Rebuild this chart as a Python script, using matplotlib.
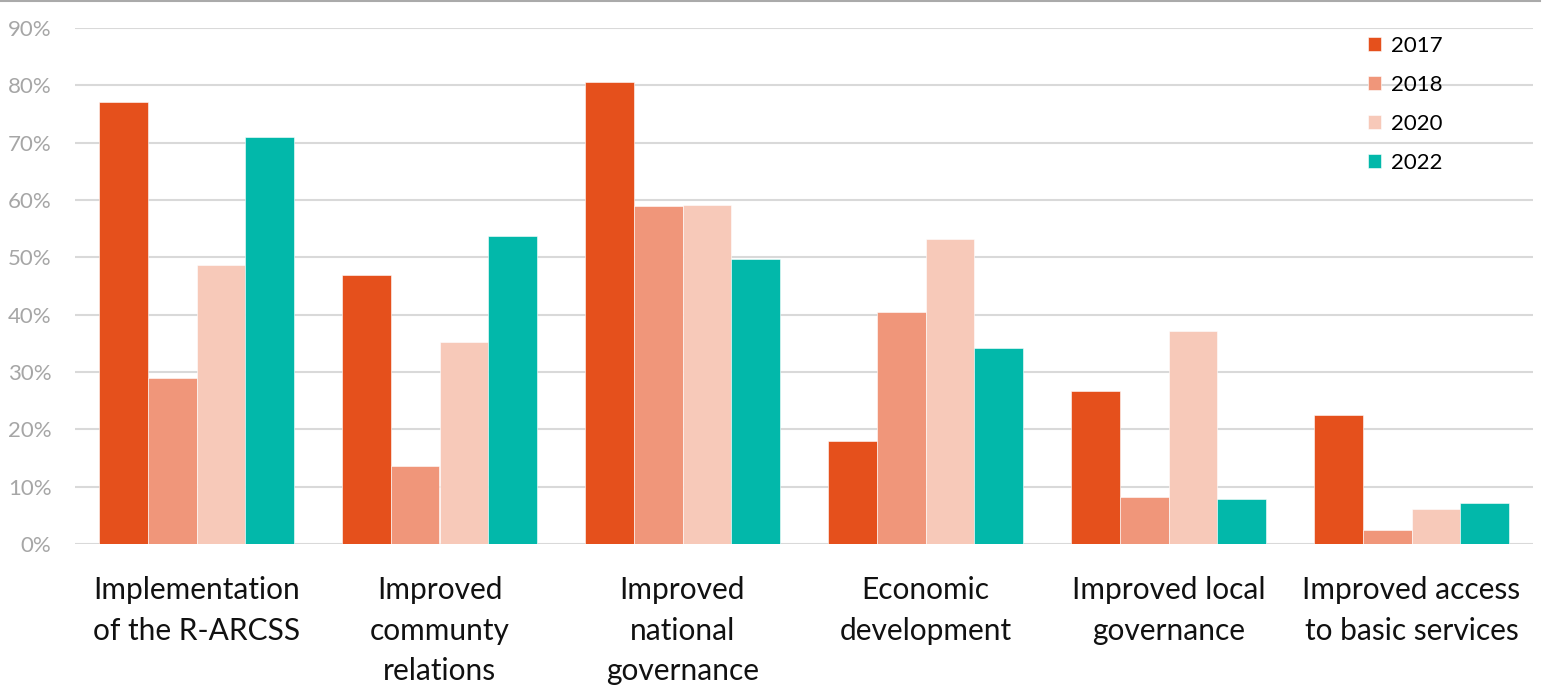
import matplotlib.pyplot as plt
import numpy as np
from matplotlib.lines import Line2D
from matplotlib.ticker import PercentFormatter

plt.rcParams['font.family'] = ['Lato', 'DejaVu Sans']

categories = [
    'Implementation\nof the R-ARCSS',
    'Improved\ncommunty\nrelations',
    'Improved\nnational\ngovernance',
    'Economic\ndevelopment',
    'Improved local\ngovernance',
    'Improved access\nto basic services',
]
years = ['2017', '2018', '2020', '2022']
v2017 = [77.1, 46.9, 80.6, 18.0, 26.7, 22.5]
v2018 = [29.0, 13.6, 59.0, 40.5, 8.2, 2.4]
v2020 = [48.7, 35.2, 59.1, 53.2, 37.2, 6.1]
v2022 = [71.0, 53.7, 49.7, 34.2, 7.8, 7.2]
series = [v2017, v2018, v2020, v2022]
colors = ['#E5501C', '#F0967A', '#F7C9B9', '#02B8AA']


def main():
  fig = plt.figure(figsize=(15.52, 6.88), dpi=100)
  ax = fig.add_axes([75 / 1552, 1 - 544 / 688, 1458 / 1552, 516 / 688])

  x = np.arange(len(categories))
  width = 0.2
  for i, (vals, c, yr) in enumerate(zip(series, colors, years)):
    ax.bar(x + (i - 1.5) * width, vals, width, color=c, label=yr,
           edgecolor='white', linewidth=0.4, zorder=3)

  ax.set_xlim(-0.5, len(categories) - 0.5)
  ax.set_ylim(0, 90)
  ax.set_yticks(np.arange(0, 91, 10))
  ax.yaxis.set_major_formatter(PercentFormatter(decimals=0))
  ax.grid(axis='y', color='#d9d9d9', linewidth=1.5, zorder=0)
  ax.set_xticks(x)
  ax.set_xticklabels(categories, fontsize=21.5, color='#111111',
                     linespacing=1.55)
  ax.tick_params(axis='x', length=0, pad=23)
  ax.tick_params(axis='y', length=0, pad=17, labelsize=16,
                 labelcolor='#a6a6a6')
  for s in ax.spines.values():
    s.set_visible(False)

  ax.legend(loc='upper left', bbox_to_anchor=(1368 / 1552, 1 - 36 / 688),
            bbox_transform=fig.transFigure, frameon=False, fontsize=16,
            handlelength=0.6, handleheight=0.6, handletextpad=0.45,
            labelspacing=0.85, borderpad=0, borderaxespad=0)

  # thin gray rule along the top edge
  fig.add_artist(Line2D([0, 1540 / 1552], [0.999, 0.999],
                        transform=fig.transFigure, color='#aaaaaa',
                        linewidth=1.5))

  fig.savefig('out.png', dpi=100)


if __name__ == "__main__":
  main()
